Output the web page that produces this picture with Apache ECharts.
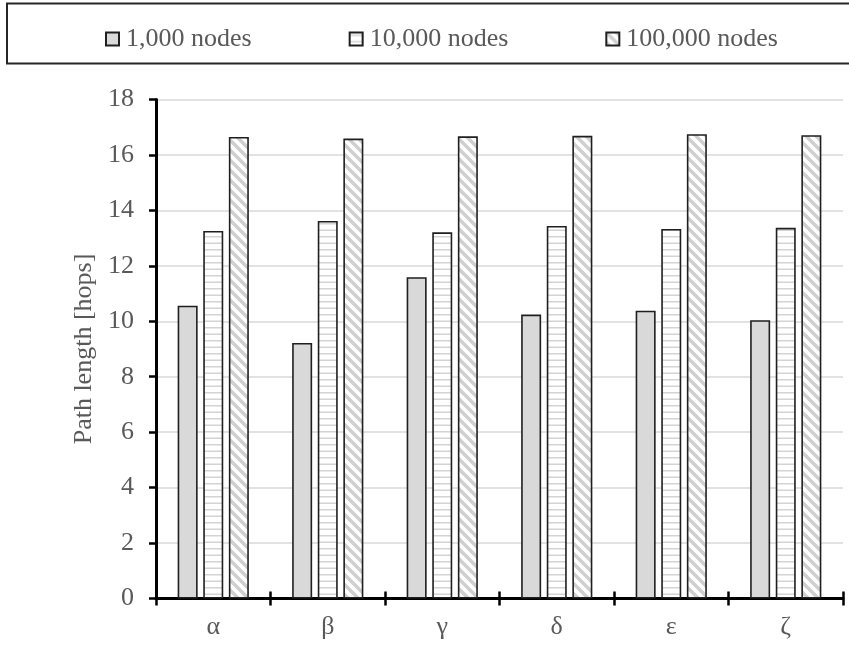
<!DOCTYPE html>
<html>
<head>
<meta charset="utf-8">
<title>Path length</title>
<script src="https://cdn.jsdelivr.net/npm/echarts@6/dist/echarts.min.js"></script>
<style>
  html, body { margin: 0; padding: 0; background: #fff; }
  #chart { width: 849px; height: 646px; }
</style>
</head>
<body>
<div id="chart"></div>
<script>
// Categories and measured path lengths per network size
const categories = ['α', 'β', 'γ', 'δ', 'ε', 'ζ'];
const seriesNames = ['1,000 nodes', '10,000 nodes', '100,000 nodes'];
const nodes1k   = [10.56, 9.22, 11.59, 10.24, 10.38, 10.04];
const nodes10k  = [13.26, 13.62, 13.21, 13.44, 13.33, 13.37];
const nodes100k = [16.65, 16.59, 16.67, 16.69, 16.75, 16.71];
const yTicks = { min: 0, max: 18, interval: 2 };

const FONT = '"Liberation Serif", "DejaVu Serif", serif';
const FS = 26;
const TEXT = '#595959';

// Fill patterns for the bars
function horizontalLines() {
  const c = document.createElement('canvas');
  c.width = 8; c.height = 13;
  const g = c.getContext('2d');
  g.fillStyle = '#ffffff';
  g.fillRect(0, 0, c.width, c.height);
  g.fillStyle = '#d4d4d4';
  g.fillRect(0, 2, c.width, 1.5);
  g.fillRect(0, 8.5, c.width, 1.5);
  return c;
}
function diagonalLines() {
  const s = 10;
  const c = document.createElement('canvas');
  c.width = s; c.height = s;
  const g = c.getContext('2d');
  g.fillStyle = '#ffffff';
  g.fillRect(0, 0, s, s);
  g.strokeStyle = '#cfcfcf';
  g.lineWidth = 3.4;
  g.beginPath();
  g.moveTo(-2, -2); g.lineTo(s + 2, s + 2);
  g.moveTo(-2, s - 2); g.lineTo(2, s + 2);
  g.moveTo(s - 2, -2); g.lineTo(s + 2, 2);
  g.stroke();
  return c;
}

const fills = [
  '#d9d9d9',
  { image: horizontalLines(), repeat: 'repeat' },
  { image: diagonalLines(), repeat: 'repeat' }
];
const values = [nodes1k, nodes10k, nodes100k];

const chart = echarts.init(document.getElementById('chart'), null, { renderer: 'canvas' });

const option = {
  animation: false,
  backgroundColor: '#ffffff',
  graphic: [{
    type: 'rect',
    shape: { x: 7, y: 3.5, width: 860, height: 60 },
    style: { fill: 'none', stroke: '#262626', lineWidth: 2 },
    z: -1
  }],
  legend: {
    data: seriesNames,
    icon: 'rect',
    left: 100,
    top: 21,
    itemWidth: 13,
    itemHeight: 13,
    itemGap: 97,
    textStyle: { fontFamily: FONT, fontSize: FS, color: TEXT, padding: [0, 0, 0, 2] }
  },
  grid: { left: 156, right: 6, top: 99.5, bottom: 47.5, containLabel: false },
  xAxis: [{
    type: 'category',
    data: categories,
    position: 'bottom',
    axisLine: { show: true, lineStyle: { color: '#000', width: 3 } },
    axisTick: { show: true, inside: false, length: 7, lineStyle: { color: '#000', width: 2.5 } },
    axisLabel: { fontFamily: FONT, fontSize: FS, color: TEXT, margin: 16 },
    splitLine: { show: false }
  }, {
    type: 'category',
    data: categories,
    position: 'bottom',
    axisLine: { show: false },
    axisTick: { show: true, inside: true, length: 7, lineStyle: { color: '#000', width: 2.5 } },
    axisLabel: { show: false },
    splitLine: { show: false }
  }],
  yAxis: {
    type: 'value',
    min: yTicks.min,
    max: yTicks.max,
    interval: yTicks.interval,
    name: 'Path length [hops]',
    nameLocation: 'middle',
    nameGap: 55,
    nameTextStyle: { fontFamily: FONT, fontSize: FS, color: TEXT },
    axisLine: { show: true, lineStyle: { color: '#000', width: 3 } },
    axisTick: { show: true, inside: false, length: 7, lineStyle: { color: '#000', width: 2.5 } },
    axisLabel: { fontFamily: FONT, fontSize: FS, color: TEXT, margin: 22 },
    splitLine: { show: true, lineStyle: { color: '#d9d9d9', width: 1.5 } }
  },
  series: seriesNames.map((name, i) => ({
    name: name,
    type: 'bar',
    xAxisIndex: 0,
    data: values[i],
    barWidth: 20,
    barGap: '28%',
    itemStyle: { color: fills[i], borderColor: '#1f1f1f', borderWidth: 1.6 },
    emphasis: { disabled: true }
  }))
};

chart.setOption(option);
</script>
</body>
</html>
